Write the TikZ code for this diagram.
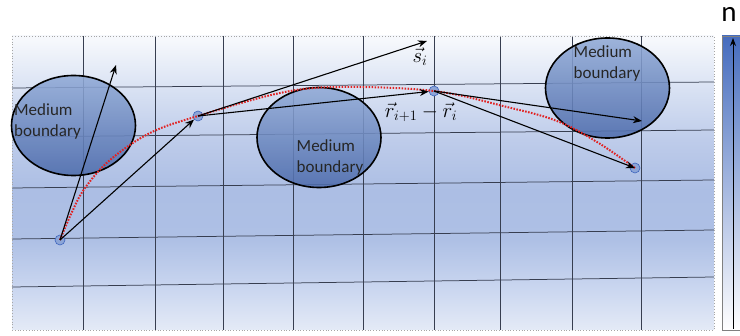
\documentclass[tikz,border=0pt]{standalone}
\usepackage{fontspec}
\setmainfont{Carlito}
\usetikzlibrary{shapes.geometric,arrows.meta}
\definecolor{bgA}{RGB}{228,234,246}
\definecolor{bgB}{RGB}{203,215,240}
\definecolor{bgC}{RGB}{174,192,229}
\definecolor{bgD}{RGB}{172,190,228}
\definecolor{bgE}{RGB}{190,204,234}
\definecolor{bgF}{RGB}{216,225,243}
\definecolor{bgG}{RGB}{246,248,252}
\pgfdeclareverticalshading{panelshade}{100bp}{color(0bp)=(bgA); color(25bp)=(bgA); color(31.8bp)=(bgB); color(40.3bp)=(bgC); color(48.8bp)=(bgD); color(57.3bp)=(bgE); color(65.8bp)=(bgF); color(74.3bp)=(bgG); color(100bp)=(bgG)}
\definecolor{gridc}{RGB}{55,62,80}
\definecolor{ellTop}{RGB}{145,170,214}
\definecolor{ellBot}{RGB}{78,108,172}
\definecolor{ptfill}{RGB}{140,165,215}
\definecolor{ptdraw}{RGB}{60,100,190}
\definecolor{barTop}{RGB}{70,108,190}
\definecolor{dotred}{RGB}{225,35,35}
\tikzset{
  gridline/.style={draw=gridc, line width=0.75pt},
  medium/.style={ellipse, draw=black, line width=1.6pt, top color=ellTop, bottom color=ellBot, fill opacity=0.88,
    minimum width=124pt, minimum height=100pt, inner sep=0pt},
  mtext/.style={font=\fontsize{17}{21}\selectfont, align=left, text=black!85, inner sep=0pt},
  pt/.style={circle, draw=ptdraw, fill=ptfill, line width=0.6pt, minimum size=10pt, inner sep=0pt},
  vec/.style={-{Stealth[length=9pt,width=7pt]}, line width=1.1pt, black},
  path/.style={draw=dotred, line width=2pt, dash pattern=on 1.6pt off 1.4pt},
  mlabel/.style={font=\fontsize{20}{22}\selectfont, inner sep=0pt}
}
\begin{document}
\begin{tikzpicture}[x=1pt,y=-1pt]
\useasboundingbox (0,0) rectangle (740,336);
% background panel
\shade[shading=panelshade] (12,36) rectangle (714,330);
% grid
\foreach \x in {83,155,223,293,363,434,500,572,641}
  \draw[gridline] (\x,36) -- (\x,330);
\draw[gridline] (12,88) -- (714,82);
\draw[gridline] (12,137) -- (714,130);
\draw[gridline] (12,188) -- (714,180);
\draw[gridline] (12,239) -- (714,230);
\draw[gridline] (12,287) -- (714,277);
\draw[gray!70, dotted, line width=0.8pt] (12,36) rectangle (714,330);
% medium boundaries
\node[medium] (e1) at (73.5,125.5) {};
\node[medium] (e2) at (319,137.5) {};
\node[medium] (e3) at (607.5,88) {};
\node[mtext, anchor=west] (t1) at (14,121) {Medium\\boundary};
\node[mtext] (t2) at (330,157) {Medium\\boundary};
\node[mtext] (t3) at (607,63) {Medium\\boundary};
% points
\node[pt] (p0) at (60,240) {};
\node[pt] (p1) at (198,116) {};
\node[pt] (p2) at (434,91) {};
\node[pt] (p3) at (635,168) {};
% trajectory
\draw[path] plot[smooth, tension=0.6] coordinates {(p0.center) (72,212) (85,188) (110,160) (150,133) (p1.center) (280,93) (340,87) (p2.center) (507,107) (557,121) (597,142) (p3.center)};
% vectors
\coordinate (a0) at (116,65);
\coordinate (s) at (427,41);
\coordinate (a2) at (642,121);
\draw[vec] (p0.center) -- (a0);
\draw[vec] (p0.center) -- (p1);
\draw[vec] (p1.center) -- (s);
\draw[vec] (p1.center) -- (p2);
\draw[vec] (p2.center) -- (a2);
\draw[vec] (p2.center) -- (p3.center);
\node[mlabel] (ls) at (420,57) {$\vec{s}_i$};
\node[mlabel] (lr) at (421,112) {$\vec{r}_{i+1}-\vec{r}_i$};
% refractive index bar
\shade[top color=barTop, bottom color=white] (722,36) rectangle (740,330);
\draw[gray, line width=0.6pt] (722,36) rectangle (740,330);
\coordinate (nb) at (733,329);
\coordinate (nt) at (733,38);
\draw[-{Stealth[length=8pt,width=6pt]}, line width=1pt] (nb) -- (nt);
\node[font=\fontsize{29}{29}\selectfont, inner sep=0pt] (n) at (729,14) {n};
\end{tikzpicture}
\end{document}
